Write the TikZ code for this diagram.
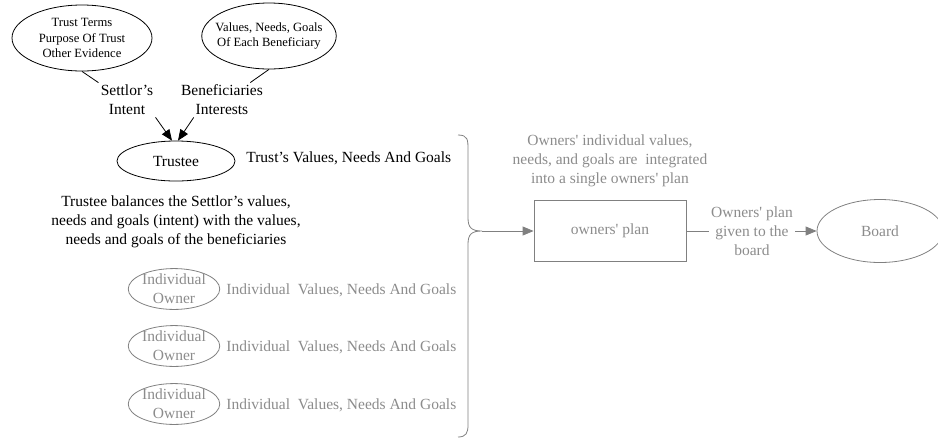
\documentclass[tikz,border=0pt]{standalone}
\usepackage{fontspec}
\setmainfont{Liberation Serif}[Ligatures=TeXOff]
\usetikzlibrary{shapes.geometric,arrows.meta}
\definecolor{ownerline}{RGB}{128,128,128}
\definecolor{ownertext}{RGB}{140,140,140}

\begin{document}
\begin{tikzpicture}[x=1pt,y=-1pt,
    every node/.style={font=\fontsize{15.5}{19}\selectfont,align=center,inner sep=2pt},
    small/.style={font=\fontsize{12.6}{15.5}\selectfont},
    oval/.style={draw,ellipse,inner sep=0pt},
    owner/.style={oval,draw=ownerline,text=ownertext},
    graylabel/.style={text=ownertext},
    tip/.style={-{Triangle[length=11pt,width=9pt]}},
    line width=0.8pt]
\useasboundingbox (0,0) rectangle (938,440);
\node[oval,small,minimum width=140,minimum height=66] (terms) at (82,38) {Trust Terms\\Purpose Of Trust\\Other Evidence};
\node[oval,small,inner xsep=-6pt,minimum height=66] (wishes) at (269,36) {Values, Needs, Goals\\Of Each Beneficiary};
\node (intent) at (127,100) {Settlor’s\\Intent};
\node (interests) at (222,100) {Beneficiaries\\Interests};
\node[oval,minimum width=118,minimum height=40] (trustee) at (176,161) {Trustee};
\node[anchor=west] (trustvalues) at (244,158) {Trust’s Values, Needs And Goals};
\node (balance) at (176,222) {Trustee balances the Settlor’s values,\\needs and goals (intent) with the values,\\needs and goals of the beneficiaries};
\foreach \y [count=\i] in {289,346,404} {
    \node[owner,inner xsep=0.5pt,inner ysep=-0.5pt] (owner\i) at (174,\y) {Individual\\Owner};
    \node[graylabel,anchor=west] (ownervalues\i) at (224,\y+1) {Individual\ \ Values, Needs And Goals};
}
\node[graylabel] (integrate) at (610,161) {Owners' individual values,\\needs, and goals are\ \ integrated\\into a single owners' plan};
\node[draw=ownerline,text=ownertext,minimum width=152,minimum height=61] (plan) at (610,231) {owners' plan};
\node[graylabel] (given) at (752,231) {Owners' plan\\given to the\\board};
\node[owner,minimum width=126,minimum height=63] (board) at (880,231) {Board};
\coordinate (bracetip) at (482,231);

\draw (terms.south) -- (intent.north west);
\draw (wishes.south) -- ([xshift=-15pt]interests.north east);
\draw[tip] (intent.south east) -- ([xshift=-4pt]trustee.north);
\draw[tip] ([xshift=15pt]interests.south west) -- ([xshift=2pt]trustee.north);
\draw[ownerline] (458,135) .. controls (468,135) and (468,140) .. (468,150) -- (468,218)
    .. controls (468,228) and (472,231) .. (bracetip)
    .. controls (472,231) and (468,234) .. (468,244) -- (468,425)
    .. controls (468,433) and (466,437) .. (458,437);
\draw[ownerline,tip] (bracetip) -- (plan);
\draw[ownerline] (plan) -- (given);
\draw[ownerline,tip] (given) -- (board);
\end{tikzpicture}
\end{document}
